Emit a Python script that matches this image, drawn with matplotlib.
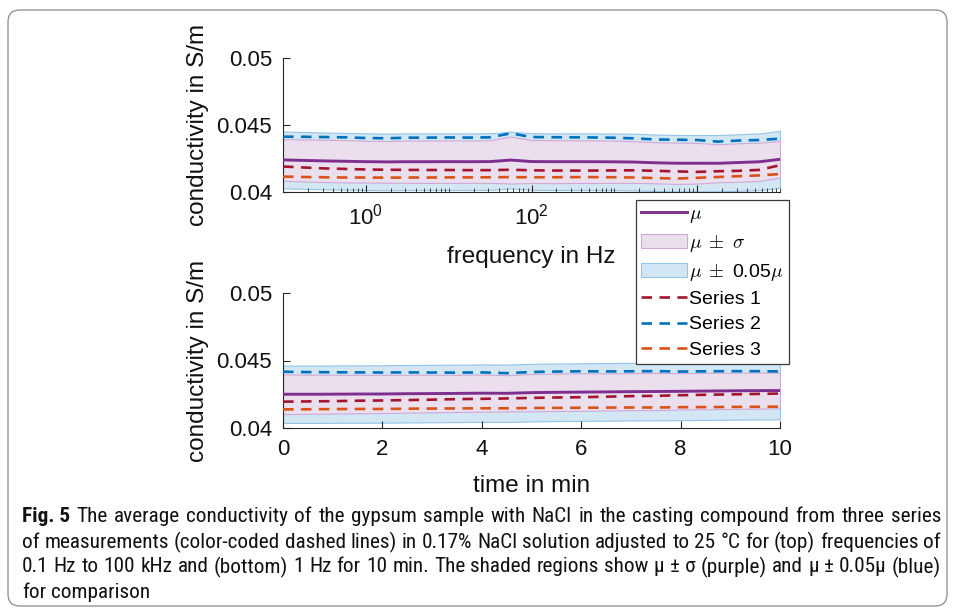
import matplotlib
matplotlib.use("Agg")
import matplotlib.pyplot as plt
import numpy as np
from matplotlib import font_manager
from matplotlib.patches import FancyBboxPatch
from matplotlib.transforms import IdentityTransform
from matplotlib.ticker import FixedLocator, LogLocator, NullFormatter

# top panel: frequency sweep (quarter-decade points, 0.1 Hz .. 100 kHz)
freq_exp = [-1, -0.75, -0.5, -0.25, 0, 0.25, 0.5, 0.75, 1, 1.25, 1.5, 1.75,
            2, 2.25, 2.5, 2.75, 3, 3.25, 3.5, 3.75, 4, 4.25, 4.5, 4.75, 5]
freq_s1 = [0.04190, 0.04183, 0.04176, 0.04172, 0.04168, 0.04166, 0.04165, 0.04164,
           0.04164, 0.04163, 0.04163, 0.04166, 0.04162, 0.04160, 0.04160, 0.04160,
           0.04161, 0.04162, 0.04158, 0.04154, 0.04150, 0.04155, 0.04158, 0.04165, 0.04200]
freq_s2 = [0.04413, 0.04412, 0.04410, 0.04408, 0.04403, 0.04401, 0.04405, 0.04406,
           0.04407, 0.04406, 0.04408, 0.04438, 0.04410, 0.04409, 0.04408, 0.04407,
           0.04405, 0.04400, 0.04392, 0.04390, 0.04388, 0.04376, 0.04384, 0.04388, 0.04398]
freq_s3 = [0.04115, 0.04112, 0.04110, 0.04108, 0.04108, 0.04107, 0.04108, 0.04108,
           0.04109, 0.04109, 0.04110, 0.04111, 0.04110, 0.04110, 0.04111, 0.04111,
           0.04110, 0.04108, 0.04104, 0.04100, 0.04106, 0.04112, 0.04118, 0.04124, 0.04134]

# bottom panel: 10 min at 1 Hz
time_min = [0, 0.5, 1, 1.5, 2, 2.5, 3, 3.5, 4, 4.5, 5, 5.5, 6, 6.5, 7, 7.5, 8, 8.5,
            9, 9.5, 10]
time_s1 = [0.04195, 0.04197, 0.04199, 0.04202, 0.04204, 0.04207, 0.04210, 0.04214,
           0.04216, 0.04219, 0.04223, 0.04226, 0.04228, 0.04232, 0.04236, 0.04238,
           0.04243, 0.04246, 0.04249, 0.04252, 0.04255]
time_s2 = [0.04417, 0.04414, 0.04413, 0.04412, 0.04411, 0.04412, 0.04411, 0.04410,
           0.04412, 0.04406, 0.04415, 0.04418, 0.04420, 0.04419, 0.04420, 0.04421,
           0.04418, 0.04420, 0.04421, 0.04421, 0.04419]
time_s3 = [0.04138, 0.04139, 0.04140, 0.04141, 0.04141, 0.04143, 0.04144, 0.04145,
           0.04146, 0.04146, 0.04148, 0.04149, 0.04150, 0.04151, 0.04152, 0.04152,
           0.04154, 0.04155, 0.04156, 0.04157, 0.04158]

ytick_vals = [0.04, 0.045, 0.05]
ytick_labels = ["0.04", "0.045", "0.05"]
freq_ticks = [1, 100, 10000]
# the 10^4 label sits behind the legend in the original
freq_tick_labels = [r"$\mathregular{10^{0}}$", r"$\mathregular{10^{2}}$", ""]
time_ticks = [0, 2, 4, 6, 8, 10]

caption_bold = "Fig. 5"
caption_lines = [
    "The average conductivity of the gypsum sample with NaCl in the casting compound from three series",
    "of measurements (color-coded dashed lines) in 0.17% NaCl solution adjusted to 25 °C for (top) frequencies of",
    "0.1 Hz to 100 kHz and (bottom) 1 Hz for 10 min. The shaded regions show μ ± σ (purple) and μ ± 0.05μ (blue)",
    "for comparison",
]

C_MU = "#7e2f8e"
C_S1 = "#a2142f"
C_S2 = "#0072bd"
C_S3 = "#d95319"
C_SIG = "#ebdfee"
C_SIG_E = "#cfa9d6"
C_PCT = "#d3e6f3"
C_PCT_E = "#94c4e6"
AX_C = "#262626"

plt.rcParams["font.family"] = ["Liberation Sans", "DejaVu Sans"]
plt.rcParams["mathtext.fontset"] = "cm"

fig = plt.figure(figsize=(9.56, 6.16), dpi=100)
W, H = 956.0, 616.0


def px_axes(x0, y0, x1, y1):
    return fig.add_axes([x0 / W, 1 - y1 / H, (x1 - x0) / W, (y1 - y0) / H])


ax1 = px_axes(283, 58, 780, 192)
ax2 = px_axes(283, 293, 780, 428)


def draw_panel(ax, x, s1, s2, s3):
    data = np.array([s1, s2, s3])
    mu = data.mean(axis=0)
    sd = data.std(axis=0, ddof=1)
    pct = ax.fill_between(x, 0.95 * mu, 1.05 * mu, facecolor=C_PCT,
                          edgecolor=C_PCT_E, linewidth=0.8, zorder=1)
    sig = ax.fill_between(x, mu - sd, mu + sd, facecolor=C_SIG,
                          edgecolor=C_SIG_E, linewidth=0.8, zorder=2)
    l_mu, = ax.plot(x, mu, color=C_MU, lw=2.1, zorder=3)
    dash = (0, (4, 2.8))
    l1, = ax.plot(x, s1, color=C_S1, lw=1.9, ls=dash, zorder=4)
    l2, = ax.plot(x, s2, color=C_S2, lw=1.9, ls=dash, zorder=4)
    l3, = ax.plot(x, s3, color=C_S3, lw=1.9, ls=dash, zorder=4)
    ax.set_ylim(0.04, 0.05)
    ax.set_yticks(ytick_vals)
    ax.set_yticklabels(ytick_labels)
    for s in ["top", "right"]:
        ax.spines[s].set_visible(False)
    for s in ["left", "bottom"]:
        ax.spines[s].set_color(AX_C)
        ax.spines[s].set_linewidth(0.8)
    ax.tick_params(which="both", direction="in", colors=AX_C, labelsize=16,
                   labelcolor="#111111")
    ax.tick_params(which="major", length=5, pad=8)
    ax.tick_params(which="minor", length=3)
    ax.set_ylabel("conductivity in S/m", fontsize=17.5, color="#111111", labelpad=5)
    return [l_mu, sig, pct, l1, l2, l3]


handles = draw_panel(ax1, [10.0 ** e for e in freq_exp], freq_s1, freq_s2, freq_s3)
ax1.set_xscale("log")
ax1.set_xlim(0.1, 1e5)
ax1.xaxis.set_major_locator(FixedLocator(freq_ticks))
ax1.set_xticklabels(freq_tick_labels)
ax1.xaxis.set_minor_locator(LogLocator(base=10, subs=np.arange(1, 10), numticks=20))
ax1.xaxis.set_minor_formatter(NullFormatter())
ax1.set_xlabel("frequency in Hz", fontsize=17.5, color="#111111", labelpad=12)

draw_panel(ax2, time_min, time_s1, time_s2, time_s3)
ax2.set_xlim(0, 10)
ax2.set_xticks(time_ticks)
ax2.set_xlabel("time in min", fontsize=17.5, color="#111111", labelpad=11)

labels = [r"$\mu$", r"$\mu\;\pm\;\sigma$", r"$\mu\;\pm\;$0.05$\mu$", "Series 1", "Series 2", "Series 3"]
leg = fig.legend(handles, labels, loc="upper left", bbox_to_anchor=(636 / W, 1 - 200 / H),
                 fontsize=14, frameon=True, fancybox=False, framealpha=1,
                 edgecolor="#3a3a3a", borderpad=0.28, labelspacing=0.4,
                 handlelength=2.35, handletextpad=0.12, borderaxespad=0)
leg.get_frame().set_linewidth(0.9)

# caption box
fig.patches.append(FancyBboxPatch((8, 10), 939, 596,
                                  boxstyle="round,pad=0,rounding_size=12",
                                  transform=IdentityTransform(), facecolor="none",
                                  edgecolor="#8a8a8a", linewidth=0.9))

avail = {f.name for f in font_manager.fontManager.ttflist}
cap_family = "Liberation Sans"
for name in ["Liberation Sans Narrow", "Roboto Condensed", "Open Sans Condensed"]:
    if name in avail:
        cap_family = name
        break

renderer = fig.canvas.get_renderer()
cap_x, cap_right = 22.0, 941.0
cap_y = [517, 542, 567, 592]

# split the caption into words; first word of line 1 is bold
cap_words = [[(caption_bold, "bold")] + [(w, "normal") for w in caption_lines[0].split(" ")]]
for line in caption_lines[1:]:
    cap_words.append([(w, "normal") for w in line.split(" ")])


def word_widths(words, size):
    out = []
    for w, wt in words:
        t = fig.text(0, 0, w, fontsize=size, family=cap_family, weight=wt)
        out.append(t.get_window_extent(renderer).width)
        t.remove()
    return out


def space_width(size):
    a = fig.text(0, 0, "a a", fontsize=size, family=cap_family)
    b = fig.text(0, 0, "aa", fontsize=size, family=cap_family)
    sw = a.get_window_extent(renderer).width - b.get_window_extent(renderer).width
    a.remove()
    b.remove()
    return sw


# font size so that the longest justified line fits with normal spacing
probe_size = 13.0
sw0 = space_width(probe_size)
natural = [sum(word_widths(ws, probe_size)) + sw0 * (len(ws) - 1) for ws in cap_words[:3]]
cap_size = probe_size * (cap_right - cap_x) / max(natural)

for i, (ws, yy) in enumerate(zip(cap_words, cap_y)):
    widths = word_widths(ws, cap_size)
    if i < 3:
        gap = (cap_right - cap_x - sum(widths)) / (len(ws) - 1)
    else:
        gap = space_width(cap_size)
    xx = cap_x
    for (w, wt), wd in zip(ws, widths):
        fig.text(xx / W, 1 - yy / H, w, fontsize=cap_size, family=cap_family,
                 weight=wt, va="center", color="#111111")
        xx += wd + gap

fig.savefig("out.png", dpi=100)
